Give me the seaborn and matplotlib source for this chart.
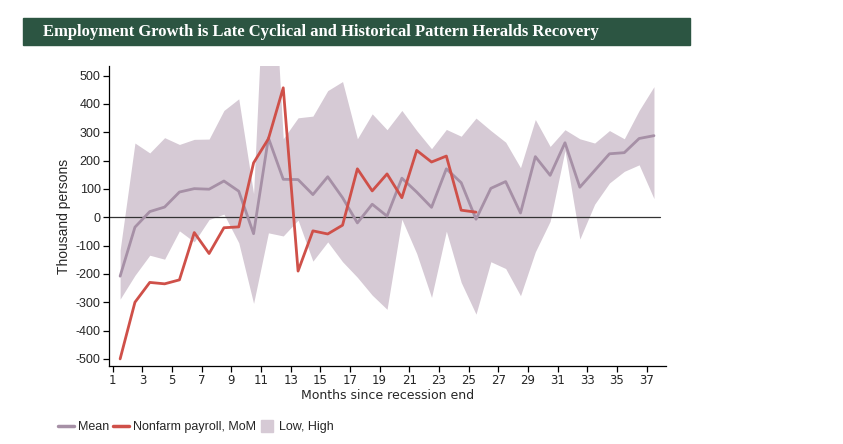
import numpy as np
import pandas as pd
import matplotlib.pyplot as plt
import matplotlib.patches as mpatches
from matplotlib.lines import Line2D
import seaborn as sns

# values (thousand persons)
months = list(range(1, 38))
mean_vals = [-208, -35, 20, 36, 89, 101, 99, 128, 92, -58, 280, 134, 133, 80, 143, 69,
             -20, 46, 4, 138, 89, 35, 171, 122, -7, 102, 126, 15, 214, 148, 263, 106,
             165, 224, 228, 278, 288]
high_vals = [-116, 262, 227, 281, 257, 275, 276, 377, 418, 83, 1200, 277, 351, 357, 447,
             479, 277, 365, 309, 377, 306, 242, 310, 286, 350, 306, 265, 175, 345, 250,
             309, 277, 262, 306, 277, 377, 461]
low_vals = [-289, -205, -134, -148, -48, -87, -8, 11, -90, -304, -55, -66, -10, -155, -87,
            -157, -212, -275, -325, -7, -128, -283, -49, -230, -342, -157, -181, -277, -122,
            -14, 236, -77, 46, 121, 162, 185, 66]
nonfarm_vals = [-500, -300, -230, -235, -221, -54, -128, -37, -34, 192, 277, 457, -190, -48,
                -59, -28, 171, 93, 153, 69, 236, 195, 216, 25, 18]

tick_months = list(range(1, 38, 2))
y_ticks = list(range(-500, 501, 100))

mean_color = '#A690A6'
red_color = '#CF5049'
band_color = '#D6CAD5'
banner_color = '#2C5542'

band = pd.DataFrame({'month': months, 'low': low_vals, 'high': high_vals, 'mean': mean_vals})
payroll = pd.DataFrame({'month': months[:len(nonfarm_vals)], 'value': nonfarm_vals})

sns.set_style('ticks')
plt.rcParams['font.family'] = ['Liberation Sans', 'DejaVu Sans']

fig = plt.figure(figsize=(8.43, 4.44), dpi=100)
ax = fig.add_axes([0.1293, 0.1757, 0.6607, 0.6757])

ax.fill_between(band['month'], band['low'], band['high'], color=band_color, lw=0, zorder=1)
sns.lineplot(data=band, x='month', y='mean', color=mean_color, lw=2, ax=ax, zorder=3)
sns.lineplot(data=payroll, x='month', y='value', color=red_color, lw=2, ax=ax, zorder=4)
ax.axhline(0, xmax=0.99, color='#333333', lw=0.9, zorder=2)

ax.set_xlim(0.25, 37.81)
ax.set_ylim(-525, 534)
ax.set_xticks([m - 0.5 for m in tick_months])
ax.set_xticklabels([str(m) for m in tick_months], fontfamily='DejaVu Sans', fontsize=8.5)
ax.set_yticks(y_ticks)
ax.set_yticklabels([str(v) for v in y_ticks], fontsize=9)
ax.tick_params(axis='both', length=4, width=0.9, color='black', pad=2)
for side in ['top', 'right']:
    ax.spines[side].set_visible(False)
for side in ['left', 'bottom']:
    ax.spines[side].set_color('black')
    ax.spines[side].set_linewidth(0.9)

ax.set_xlabel('Months since recession end', fontfamily='DejaVu Sans', fontsize=9, labelpad=1)
ax.set_ylabel('Thousand persons', fontsize=10, labelpad=3)

# title banner
fig.patches.append(mpatches.Rectangle((0.0273, 0.8986), 0.7912, 0.0609,
                                      transform=fig.transFigure, color=banner_color, zorder=0))
fig.text(0.051, 0.928, 'Employment Growth is Late Cyclical and Historical Pattern Heralds Recovery',
         color='white', fontfamily='Liberation Serif', fontweight='bold', fontsize=12,
         va='center', ha='left')

handles = [Line2D([], [], color=mean_color, lw=2.5),
           Line2D([], [], color=red_color, lw=2.5),
           Line2D([], [], color=band_color, marker='s', markersize=9, ls='')]
fig.legend(handles, ['Mean', 'Nonfarm payroll, MoM', 'Low, High'], ncol=3, frameon=False,
           loc='center left', bbox_to_anchor=(0.055, 0.038), fontsize=9,
           handlelength=1.3, handletextpad=0.3, columnspacing=0.3, handleheight=0.9)

fig.savefig('out.png', dpi=100)
